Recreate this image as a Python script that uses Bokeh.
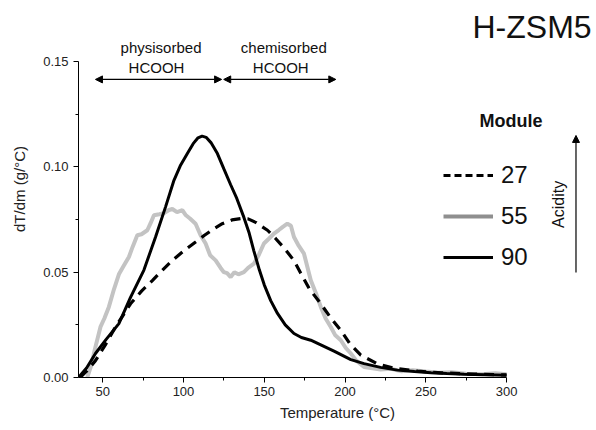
import math
from bokeh.plotting import figure
from bokeh.models import (Range1d, FixedTicker, NumeralTickFormatter, Label, Arrow,
                          NormalHead, Legend, LegendItem, ColumnDataSource)
from bokeh.embed import file_html
from bokeh.resources import INLINE

# ---- data ----
temp_90 = [35, 40, 45.5, 52, 60, 67.2, 75.5, 82.7, 88.9, 94.1, 98, 102.4, 106, 109, 111.5, 114, 117,
           121, 125, 129.2, 133, 137.4, 140.5, 143.6, 147, 150, 154, 158.2, 163, 168.4, 173, 178.8,
           185, 193.2, 203.6, 211.8, 222, 232.5, 243, 253.2, 263, 273.8, 287, 300]
dtdm_90 = [0, 0.0045, 0.0114, 0.018, 0.0256, 0.038, 0.051, 0.0667, 0.081, 0.0936, 0.1005, 0.1063,
           0.1110, 0.1138, 0.1146, 0.1140, 0.1115, 0.1063, 0.0990, 0.0915, 0.0850, 0.0760, 0.0690,
           0.0600, 0.0510, 0.0440, 0.0365, 0.0304, 0.0250, 0.0209, 0.0190, 0.0177, 0.0155, 0.0125,
           0.0085, 0.0066, 0.0048, 0.0035, 0.0028, 0.0022, 0.0019, 0.0016, 0.0013, 0.0011]

temp_27 = [36, 40, 45.5, 52, 57.9, 63, 67.2, 74, 80.7, 87, 93.1, 100, 107.5, 113, 118.9, 124, 130,
           136.4, 140, 145, 152, 157, 162.3, 168.4, 172.6, 178, 185, 191, 197.4, 203, 209.8, 220,
           230, 245, 260, 280, 300]
dtdm_27 = [0, 0.003, 0.008, 0.016, 0.024, 0.030, 0.035, 0.041, 0.046, 0.051, 0.0556, 0.060, 0.0643,
           0.0675, 0.0707, 0.073, 0.0748, 0.0755, 0.0753, 0.0735, 0.0699, 0.066, 0.0615, 0.0555,
           0.0495, 0.042, 0.035, 0.0285, 0.0224, 0.016, 0.0106, 0.0065, 0.0045, 0.003, 0.0022,
           0.0016, 0.0012]

temp_55 = [40.4, 43, 45, 48.6, 51, 53.8, 57, 60, 63, 66.2, 68.5, 71.4, 74, 77.6, 79.5, 81.7, 85, 88,
           91, 93.1, 96, 99.3, 101.5, 104, 107.5, 110.6, 113.7, 116.5, 119.9, 123, 125, 127, 129.2,
           131.5, 134, 137.4, 140, 143.6, 146.5, 149.8, 153, 156, 159, 161.5, 164.3, 166.5, 168.4,
           171, 174.6, 178.8, 182, 185, 188, 191.2, 194, 197.4, 200.5, 203.6, 207, 211.8, 216, 222,
           228, 235, 242, 250, 258, 266, 275, 285, 293, 300]
dtdm_55 = [0, 0.006, 0.013, 0.024, 0.028, 0.0335, 0.042, 0.049, 0.053, 0.0572, 0.062, 0.0675, 0.068,
           0.0699, 0.073, 0.077, 0.0775, 0.078, 0.0795, 0.080, 0.0785, 0.0794, 0.077, 0.0755, 0.073,
           0.0675, 0.0636, 0.058, 0.0556, 0.052, 0.050, 0.0495, 0.0477, 0.050, 0.049, 0.050, 0.052,
           0.054, 0.058, 0.0636, 0.066, 0.0683, 0.070, 0.0715, 0.073, 0.072, 0.0667, 0.063, 0.0588,
           0.0462, 0.040, 0.0335, 0.028, 0.024, 0.020, 0.0177, 0.014, 0.0114, 0.008, 0.005, 0.0045,
           0.0038, 0.0042, 0.003, 0.0035, 0.0028, 0.0022, 0.0025, 0.0018, 0.0016, 0.002, 0.0015]

modules = ["27", "55", "90"]
x_ticks = [50, 100, 150, 200, 250, 300]
y_ticks = [0.0, 0.05, 0.10, 0.15]

FONT = "Liberation Sans"

# The frame spans the whole area right of / above the axes so that the annotations
# placed beside the curves are not clipped; the axes themselves stop at 300 and 0.15.
p = figure(width=596, height=430, output_backend="svg", toolbar_location=None,
           x_range=Range1d(35, 355.7), y_range=Range1d(0, 0.17896),
           min_border_left=78, min_border_right=0, min_border_top=0, min_border_bottom=53)
p.outline_line_color = None
p.xgrid.visible = False
p.ygrid.visible = False
p.background_fill_color = None
p.border_fill_color = "white"

p.xaxis.ticker = FixedTicker(ticks=x_ticks, minor_ticks=[75, 125, 175, 225, 275])
p.yaxis.ticker = FixedTicker(ticks=y_ticks, minor_ticks=[0.025, 0.075, 0.125])
p.yaxis.formatter = NumeralTickFormatter(format="0.00")
p.xaxis.bounds = (35, 300)
p.yaxis.bounds = (0, 0.15)
for ax in (p.xaxis, p.yaxis):
    ax.axis_line_color = "black"
    ax.major_tick_line_color = "black"
    ax.minor_tick_line_color = "black"
    ax.major_tick_out = 5
    ax.major_tick_in = 0
    ax.minor_tick_out = 3
    ax.minor_tick_in = 0
    ax.major_label_text_font = FONT
    ax.major_label_text_font_size = "13px"
    ax.major_label_text_color = "#222222"
    ax.axis_label_text_font = FONT
    ax.axis_label_text_font_size = "15px"
    ax.axis_label_text_font_style = "normal"
    ax.axis_label_text_color = "#222222"
p.xaxis.axis_label = "Temperature (°C)"
p.yaxis.axis_label = "dT/dm (g/°C)"
p.xaxis.major_label_standoff = 4
p.yaxis.major_label_standoff = 5
p.xaxis.axis_label_standoff = 5
p.yaxis.axis_label_standoff = 12

# curves
p.line(temp_55, dtdm_55, line_color="#c3c3c3", line_width=4)
p.line(temp_27, dtdm_27, line_color="black", line_width=3.2, line_dash="10 7")
p.line(temp_90, dtdm_90, line_color="black", line_width=3)

# legend-only renderers (a single NaN point: nothing drawn in the plot)
nan = float("nan")
def legend_src():
    return ColumnDataSource(data=dict(x=[nan], y=[nan]))
r27 = p.line("x", "y", source=legend_src(), line_color="black", line_width=3, line_dash="7 4")
r55 = p.line("x", "y", source=legend_src(), line_color="#8f8f8f", line_width=4)
r90 = p.line("x", "y", source=legend_src(), line_color="black", line_width=3)
legend = Legend(items=[LegendItem(label=modules[0], renderers=[r27]),
                       LegendItem(label=modules[1], renderers=[r55]),
                       LegendItem(label=modules[2], renderers=[r90])],
                location=(365, 105), glyph_width=50, glyph_height=30, label_height=30,
                label_standoff=8, spacing=11, padding=0, margin=0,
                label_text_font=FONT, label_text_font_size="24px", label_text_color="#111111",
                border_line_color=None, background_fill_alpha=0)
p.add_layout(legend, "center")

def lab(x, y, text, size, align="center", style="normal", angle=0.0):
    p.add_layout(Label(x=x, y=y, text=text, text_font=FONT, text_font_size=size,
                       text_font_style=style, text_align=align, text_baseline="middle",
                       text_color="#111111", angle=angle))

lab(86.1, 0.1567, "physisorbed", "15px")
lab(83.3, 0.1472, "HCOOH", "15px")
lab(162.1, 0.1567, "chemisorbed", "15px")
lab(160.2, 0.1472, "HCOOH", "15px")
lab(315.8, 0.1662, "H-ZSM5", "32px")
lab(302.7, 0.1216, "Module", "18px", style="bold")
lab(331.9, 0.0822, "Acidity", "16px", angle=math.pi / 2)

def arr(x0, y0, x1, y1, both=True):
    p.add_layout(Arrow(x_start=x0, y_start=y0, x_end=x1, y_end=y1, line_color="black",
                       line_width=1.2,
                       start=NormalHead(size=7, fill_color="black", line_color="black") if both else None,
                       end=NormalHead(size=7, fill_color="black", line_color="black")))

arr(45.5, 0.1415, 123.6, 0.1415)
arr(124.9, 0.1415, 194.3, 0.1415)
arr(343.0, 0.0498, 343.0, 0.1149, both=False)

open("out.html", "w").write(file_html(p, INLINE))
